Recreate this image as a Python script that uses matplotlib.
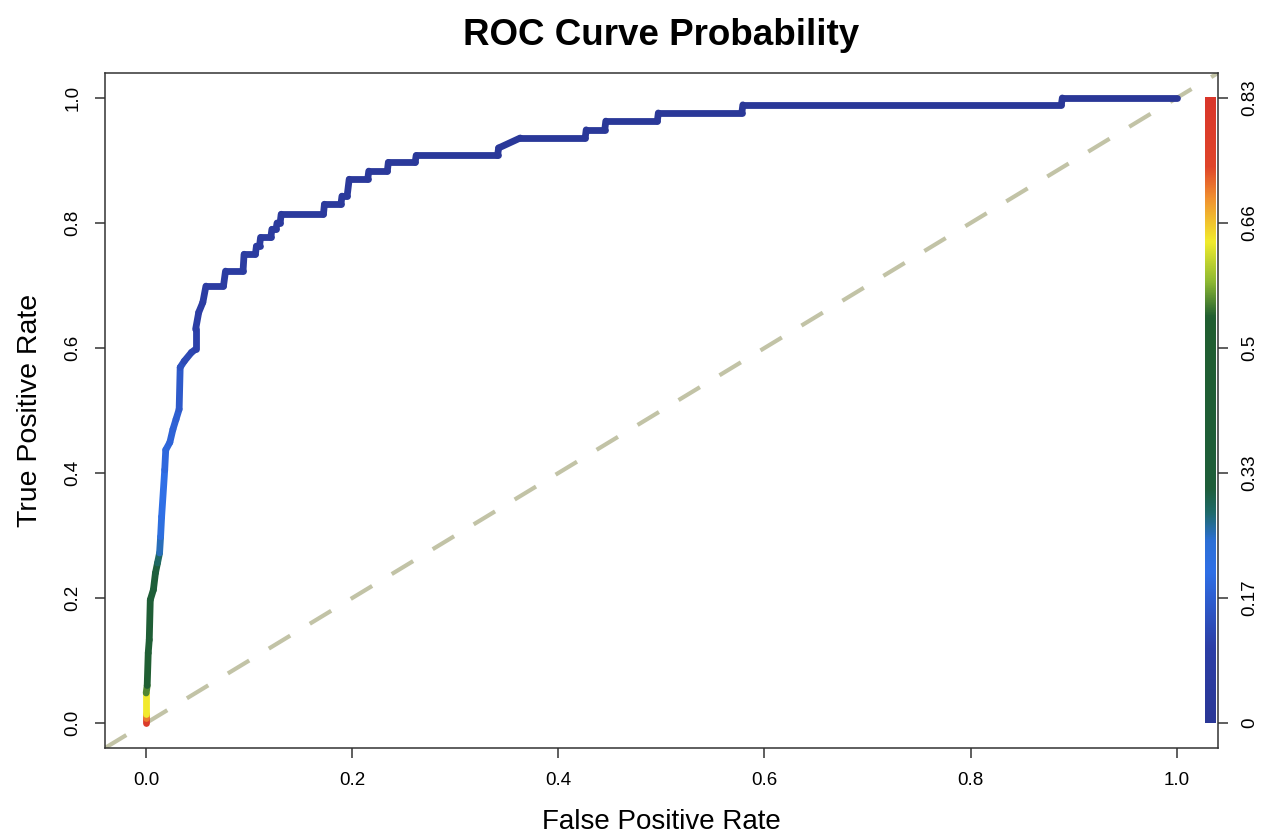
import numpy as np
import matplotlib
matplotlib.use("Agg")
import matplotlib.pyplot as plt
from matplotlib.collections import LineCollection
from matplotlib.colors import LinearSegmentedColormap, Normalize

plt.rcParams['font.family'] = ['Liberation Sans', 'DejaVu Sans']

# ROC curve vertices (fpr, tpr, cutoff)
fpr = [0.000, 0.000, 0.000, 0.000, 0.001, 0.002, 0.003, 0.004, 0.007, 0.009,
       0.011, 0.013, 0.014, 0.015, 0.018, 0.019, 0.023, 0.026, 0.029, 0.032,
       0.033, 0.037, 0.044, 0.048, 0.048, 0.051, 0.055, 0.058,
       0.075, 0.077, 0.094, 0.095, 0.106, 0.107, 0.110, 0.111, 0.121, 0.122,
       0.126, 0.127, 0.130, 0.131, 0.172, 0.173, 0.189, 0.190, 0.195, 0.197,
       0.215, 0.216, 0.234, 0.235, 0.261, 0.262, 0.341, 0.342, 0.363, 0.426,
       0.427, 0.445, 0.446, 0.496, 0.497, 0.578, 0.579, 0.888, 0.889, 1.000]
tpr = [0.000, 0.008, 0.015, 0.048, 0.060, 0.112, 0.133, 0.197, 0.213, 0.240,
       0.256, 0.272, 0.298, 0.330, 0.405, 0.437, 0.449, 0.470, 0.486, 0.502,
       0.569, 0.579, 0.593, 0.598, 0.630, 0.657, 0.673, 0.699,
       0.699, 0.723, 0.723, 0.750, 0.750, 0.763, 0.763, 0.777, 0.777, 0.790,
       0.790, 0.800, 0.800, 0.814, 0.814, 0.830, 0.830, 0.843, 0.843, 0.870,
       0.870, 0.883, 0.883, 0.897, 0.897, 0.908, 0.908, 0.920, 0.936, 0.936,
       0.949, 0.949, 0.963, 0.963, 0.976, 0.976, 0.989, 0.989, 1.000, 1.000]
cutoff = [0.83, 0.76, 0.66, 0.62, 0.50, 0.45, 0.42, 0.38, 0.35, 0.32,
          0.30, 0.27, 0.23, 0.21, 0.19, 0.185, 0.18, 0.175, 0.17, 0.165,
          0.15, 0.13, 0.12, 0.11, 0.10, 0.09, 0.085, 0.08,
          0.075, 0.072, 0.070, 0.068, 0.066, 0.064, 0.062, 0.060, 0.058, 0.056,
          0.054, 0.052, 0.050, 0.048, 0.046, 0.044, 0.042, 0.040, 0.038, 0.036,
          0.034, 0.032, 0.030, 0.028, 0.026, 0.024, 0.022, 0.020, 0.019, 0.018,
          0.017, 0.016, 0.015, 0.014, 0.013, 0.012, 0.011, 0.010, 0.008, 0.005]

cut_max = 0.83
cbar_labels = ["0", "0.17", "0.33", "0.5", "0.66", "0.83"]

# palette as seen on the colour key
cmap = LinearSegmentedColormap.from_list("rocr", [
    (0.00, "#2a3796"),
    (0.12, "#2c3ea6"),
    (0.24, "#2f6fe6"),
    (0.29, "#2c6fd6"),
    (0.335, "#1f6a6a"),
    (0.375, "#1e5e3a"),
    (0.65, "#215f30"),
    (0.705, "#8cb832"),
    (0.77, "#f2ec2c"),
    (0.84, "#f09030"),
    (0.89, "#e0452a"),
    (1.00, "#d9362a"),
])
norm = Normalize(0, cut_max)

fig = plt.figure(figsize=(12.72, 8.38), dpi=100)
ax = fig.add_axes([0.0825, 0.1074, 0.875, 0.8055])

# diagonal reference, starting in the lower left corner
ax.plot([-0.04, 1.1], [-0.04, 1.1], color="#c2c3a6", lw=3, dashes=(6, 5.5),
        zorder=1)

pts = np.column_stack([fpr, tpr])
segs = np.stack([pts[:-1], pts[1:]], axis=1)
cmid = (np.array(cutoff[:-1]) + np.array(cutoff[1:])) / 2
lc = LineCollection(segs, colors=cmap(norm(cmid)), linewidths=4.9,
                    capstyle="round", joinstyle="round", zorder=3)
ax.add_collection(lc)

# colour key inside the plot area
grad = np.linspace(0, 1, 256).reshape(-1, 1)
ax.imshow(grad, cmap=cmap, origin="lower", aspect="auto",
          extent=[1.027, 1.037, 0, 1], zorder=4)

ax.set_xlim(-0.04, 1.04)
ax.set_ylim(-0.04, 1.04)
ax.set_xticks([0.0, 0.2, 0.4, 0.6, 0.8, 1.0])
ax.set_yticks([0.0, 0.2, 0.4, 0.6, 0.8, 1.0])
ax.set_xticklabels(["0.0", "0.2", "0.4", "0.6", "0.8", "1.0"])
ax.set_yticklabels(["0.0", "0.2", "0.4", "0.6", "0.8", "1.0"],
                   rotation=90, va="center")
ax.tick_params(direction="out", length=7, width=1.1, labelsize=13.5,
               color="#333333", pad=10)
for s in ax.spines.values():
    s.set_color("#333333")
    s.set_linewidth(1.1)

ax2 = ax.twinx()
ax2.set_ylim(-0.04, 1.04)
ax2.set_yticks(np.arange(len(cbar_labels)) / (len(cbar_labels) - 1))
ax2.set_yticklabels(cbar_labels, rotation=90, va="center")
ax2.tick_params(direction="out", length=7, width=1.1, labelsize=13.5,
                color="#333333", pad=10)
for s in ax2.spines.values():
    s.set_visible(False)

ax.set_xlabel("False Positive Rate", fontsize=20, labelpad=15)
ax.set_ylabel("True Positive Rate", fontsize=20.5, labelpad=15)
fig.suptitle("ROC Curve Probability", fontsize=26.5, fontweight="bold",
             x=0.52, y=0.978)

fig.savefig("out.png", dpi=100)
